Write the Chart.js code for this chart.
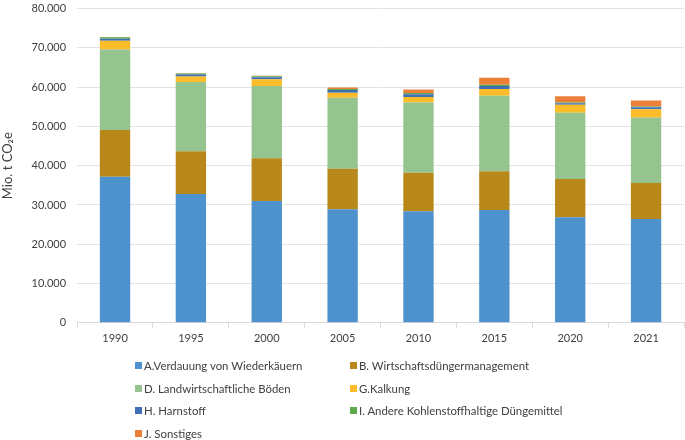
<!DOCTYPE html>
<html>
<head>
<meta charset="utf-8">
<script src="https://cdn.jsdelivr.net/npm/chart.js@4"></script>
<style>
  html, body { margin: 0; padding: 0; background: #fff; overflow: hidden; }
  #wrap { position: relative; width: 685px; height: 440px; overflow: hidden; }
  #c { position: absolute; left: 0; top: -9px; }
  #legend { position: absolute; left: 0; top: 0; width: 685px; height: 440px; pointer-events: none;
            font-family: Lato, "Open Sans", sans-serif; font-size: 12px; color: #404040; }
  .li { position: absolute; display: flex; align-items: center; white-space: nowrap; }
  .sw { width: 7px; height: 7px; margin-right: 2px; }
</style>
</head>
<body>
<div id="wrap">
  <canvas id="c" width="685" height="358"></canvas>
  <div id="legend"></div>
</div>
<script>
const categories = ['1990', '1995', '2000', '2005', '2010', '2015', '2020', '2021'];
const seriesNames = [
  'A.Verdauung von Wiederkäuern',
  'B. Wirtschaftsdüngermanagement',
  'D. Landwirtschaftliche Böden',
  'G.Kalkung',
  'H. Harnstoff',
  'I. Andere Kohlenstoffhaltige Düngemittel',
  'J. Sonstiges'
];
const verdauung      = [37200, 32800, 31000, 28900, 28400, 28700, 26900, 26400];
const wirtschaftsd   = [11900, 10900, 10900, 10300,  9800,  9900,  9700,  9200];
const boeden         = [20500, 17600, 18400, 18100, 17900, 19200, 16900, 16700];
const kalkung        = [ 2200,  1400,  1700,  1300,  1400,  1700,  2000,  2100];
const harnstoff      = [  500,   500,   500,   700,   700,   800,   400,   500];
const andereDuenger  = [  400,   300,   300,   200,   300,   300,   200,   200];
const sonstiges      = [  100,   100,   100,   400,   900,  1800,  1600,  1500];
const yTickMax = 80000;
const yTickStep = 10000;
const yTitle = 'Mio. t CO\u2082e';

const colors = ['#4e92cd', '#b8891a', '#96c48e', '#fdbd2b', '#3f6fb5', '#5ea94e', '#ec8038'];
const values = [verdauung, wirtschaftsd, boeden, kalkung, harnstoff, andereDuenger, sonstiges];

const FONT = 'Lato, "Open Sans", sans-serif';

const chart = new Chart(document.getElementById('c'), {
  type: 'bar',
  data: {
    labels: categories,
    datasets: seriesNames.map((n, i) => ({
      label: n,
      data: values[i],
      backgroundColor: colors[i],
      borderWidth: 0,
      barPercentage: 0.4,
      categoryPercentage: 1.0
    }))
  },
  options: {
    responsive: false,
    animation: false,
    devicePixelRatio: 1,
    layout: { padding: { left: 0, right: 1, top: 0, bottom: 0 } },
    plugins: {
      legend: { display: false },
      tooltip: { enabled: false }
    },
    scales: {
      x: {
        stacked: true,
        grid: { display: true, drawOnChartArea: false, drawTicks: true, tickLength: 5, color: '#d9d9d9', offset: true },
        border: { display: true, color: '#d9d9d9' },
        ticks: { color: '#404040', font: { family: FONT, size: 11 }, padding: 4, maxRotation: 0 }
      },
      y: {
        stacked: true,
        min: 0,
        max: yTickMax,
        ticks: {
          stepSize: yTickStep,
          color: '#404040',
          font: { family: FONT, size: 11 },
          padding: 11,
          callback: v => v === 0 ? '0' : v.toLocaleString('de-DE')
        },
        grid: { color: '#e3e3e3', lineWidth: 1, drawTicks: false },
        border: { display: false },
        title: { display: true, text: yTitle, color: '#404040', font: { family: FONT, size: 13 }, padding: { top: 0, bottom: 5 } }
      }
    }
  }
});

// HTML legend built from the chart datasets; font size fitted to the reference text width
const mctx = document.createElement('canvas').getContext('2d');
mctx.font = '100px ' + FONT;
const w100 = mctx.measureText(seriesNames[0]).width;
const legendFontSize = Math.max(10, Math.min(13, 100 * 159 / w100));
const legend = document.getElementById('legend');
legend.style.fontSize = legendFontSize.toFixed(2) + 'px';
const colX = [135, 350];
const rowY = [365, 388, 410, 433];
chart.data.datasets.forEach((ds, i) => {
  const d = document.createElement('div');
  d.className = 'li';
  d.style.left = colX[i % 2] + 'px';
  d.style.top = (rowY[Math.floor(i / 2)] - 8) + 'px';
  d.style.height = '16px';
  const sw = document.createElement('span');
  sw.className = 'sw';
  sw.style.background = ds.backgroundColor;
  const t = document.createElement('span');
  t.textContent = ds.label;
  d.appendChild(sw); d.appendChild(t);
  legend.appendChild(d);
});
</script>
</body>
</html>
